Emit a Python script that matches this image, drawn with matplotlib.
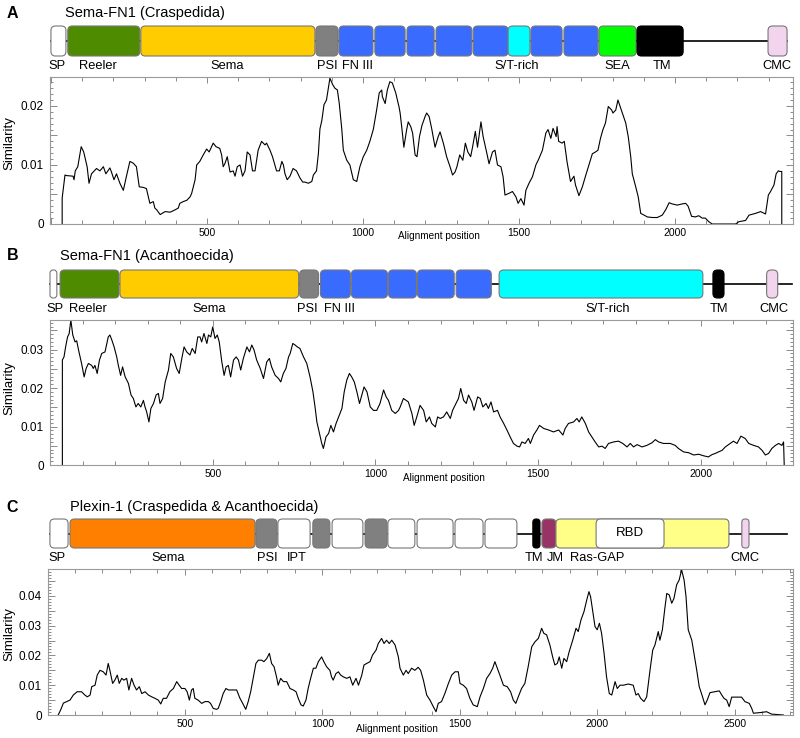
import matplotlib
matplotlib.use('Agg')
import matplotlib.pyplot as plt
from matplotlib.patches import FancyBboxPatch
from matplotlib.ticker import MultipleLocator, FuncFormatter

plt.rcParams['font.family'] = ['Liberation Sans', 'DejaVu Sans']

W, H = 800, 738

# ---------------------------------------------------------------
# similarity profiles (alignment position, similarity)
# ---------------------------------------------------------------
A_POS = [36, 36, 45, 50, 71, 74, 78, 86, 97, 105, 116, 122, 130, 146, 157, 168, 176, 189, 194, 202,
         210, 221, 232, 242, 253, 264, 274, 283, 296, 306, 317, 328, 333, 339, 350, 366, 382, 398, 408, 413,
         424, 435, 446, 451, 462, 467, 477, 488, 499, 507, 520, 529, 541, 547, 552, 558, 565, 574, 584, 590,
         597, 606, 614, 622, 629, 638, 646, 654, 664, 675, 686, 691, 702, 710, 723, 732, 740, 745, 750, 757,
         766, 776, 787, 798, 807, 814, 825, 836, 841, 851, 857, 862, 868, 875, 883, 889, 894, 903, 910, 918,
         924, 932, 937, 948, 958, 969, 980, 990, 1001, 1012, 1022, 1033, 1044, 1052, 1060, 1062, 1071, 1078, 1086, 1094,
         1105, 1116, 1119, 1124, 1131, 1140, 1145, 1153, 1159, 1167, 1173, 1181, 1189, 1199, 1204, 1212, 1220, 1231, 1241, 1247,
         1258, 1268, 1279, 1287, 1295, 1301, 1310, 1320, 1328, 1336, 1345, 1351, 1360, 1367, 1378, 1385, 1396, 1404, 1415, 1423,
         1431, 1442, 1449, 1455, 1468, 1479, 1490, 1497, 1506, 1516, 1522, 1532, 1543, 1554, 1564, 1575, 1586, 1593, 1602, 1609,
         1619, 1622, 1627, 1638, 1645, 1654, 1665, 1676, 1681, 1692, 1703, 1713, 1724, 1735, 1745, 1753, 1761, 1769, 1777, 1786,
         1797, 1801, 1810, 1817, 1826, 1833, 1842, 1850, 1858, 1863, 1874, 1882, 1890, 1901, 1911, 1927, 1943, 1959, 1970, 1981,
         1991, 2007, 2023, 2034, 2042, 2053, 2065, 2076, 2087, 2097, 2108, 2119, 2194, 2205, 2226, 2237, 2258, 2274, 2290, 2299,
         2306, 2317, 2324, 2331, 2336, 2342, 2342]
A_SIM = [0.0, 0.0044, 0.0083, 0.0082, 0.0081, 0.0075, 0.0090, 0.0097, 0.0131, 0.0122, 0.0097, 0.0069, 0.0085, 0.0094, 0.0090, 0.0097, 0.0085, 0.0095, 0.0088, 0.0075,
         0.0085, 0.0069, 0.0057, 0.0081, 0.0106, 0.0103, 0.0097, 0.0063, 0.0062, 0.0060, 0.0035, 0.0038, 0.0027, 0.0024, 0.0016, 0.0021, 0.0020, 0.0024, 0.0027, 0.0035,
         0.0038, 0.0040, 0.0046, 0.0052, 0.0075, 0.0100, 0.0106, 0.0117, 0.0127, 0.0122, 0.0137, 0.0131, 0.0128, 0.0117, 0.0097, 0.0103, 0.0114, 0.0088, 0.0090, 0.0081,
         0.0097, 0.0100, 0.0081, 0.0090, 0.0122, 0.0117, 0.0090, 0.0090, 0.0125, 0.0140, 0.0134, 0.0137, 0.0125, 0.0114, 0.0090, 0.0090, 0.0106, 0.0100, 0.0085, 0.0075,
         0.0081, 0.0094, 0.0090, 0.0078, 0.0071, 0.0071, 0.0069, 0.0072, 0.0083, 0.0090, 0.0119, 0.0161, 0.0175, 0.0202, 0.0210, 0.0230, 0.0247, 0.0236, 0.0230, 0.0227,
         0.0204, 0.0161, 0.0125, 0.0108, 0.0100, 0.0075, 0.0072, 0.0097, 0.0114, 0.0125, 0.0140, 0.0160, 0.0194, 0.0222, 0.0227, 0.0216, 0.0204, 0.0227, 0.0241, 0.0239,
         0.0222, 0.0197, 0.0188, 0.0165, 0.0130, 0.0160, 0.0173, 0.0165, 0.0154, 0.0117, 0.0114, 0.0148, 0.0167, 0.0182, 0.0188, 0.0182, 0.0162, 0.0130, 0.0148, 0.0156,
         0.0136, 0.0114, 0.0097, 0.0083, 0.0088, 0.0097, 0.0117, 0.0108, 0.0137, 0.0122, 0.0114, 0.0130, 0.0157, 0.0130, 0.0173, 0.0148, 0.0122, 0.0102, 0.0122, 0.0125,
         0.0100, 0.0097, 0.0080, 0.0049, 0.0052, 0.0055, 0.0046, 0.0035, 0.0043, 0.0032, 0.0057, 0.0069, 0.0080, 0.0100, 0.0111, 0.0125, 0.0154, 0.0160, 0.0145, 0.0162,
         0.0148, 0.0165, 0.0140, 0.0137, 0.0140, 0.0105, 0.0072, 0.0081, 0.0066, 0.0048, 0.0063, 0.0081, 0.0100, 0.0119, 0.0122, 0.0125, 0.0145, 0.0160, 0.0171, 0.0199,
         0.0193, 0.0188, 0.0193, 0.0210, 0.0196, 0.0185, 0.0171, 0.0148, 0.0114, 0.0085, 0.0063, 0.0046, 0.0018, 0.0015, 0.0012, 0.0011, 0.0011, 0.0015, 0.0024, 0.0036,
         0.0034, 0.0032, 0.0034, 0.0035, 0.0030, 0.0013, 0.0012, 0.0014, 0.0010, 0.0010, 0.0004, 0.0, 0.0, 0.0004, 0.0006, 0.0015, 0.0018, 0.0021, 0.0017, 0.0049,
         0.0055, 0.0066, 0.0085, 0.0090, 0.0089, 0.0089, 0.0]

B_POS = [38, 38, 43, 48, 54, 59, 64, 70, 77, 82, 89, 97, 105, 111, 118, 128, 133, 138, 145, 152,
         159, 169, 179, 184, 190, 197, 205, 210, 217, 223, 231, 241, 249, 256, 264, 271, 279, 287, 292, 297,
         304, 310, 318, 326, 333, 338, 346, 354, 364, 371, 379, 389, 397, 405, 412, 420, 430, 437, 446, 454,
         461, 466, 473, 482, 487, 494, 500, 507, 514, 520, 528, 535, 541, 548, 555, 564, 572, 579, 586, 594,
         605, 613, 620, 627, 635, 646, 656, 666, 674, 681, 692, 702, 709, 717, 725, 733, 738, 746, 753, 760,
         768, 779, 789, 799, 808, 815, 820, 828, 835, 840, 848, 856, 863, 871, 879, 889, 897, 904, 912, 920,
         927, 935, 943, 951, 958, 965, 974, 984, 994, 1004, 1014, 1025, 1033, 1040, 1050, 1061, 1071, 1076, 1086, 1101,
         1112, 1119, 1127, 1137, 1148, 1156, 1166, 1173, 1184, 1191, 1199, 1209, 1219, 1230, 1237, 1255, 1262, 1271, 1279, 1286,
         1296, 1303, 1314, 1322, 1330, 1340, 1347, 1355, 1363, 1375, 1383, 1394, 1404, 1414, 1424, 1435, 1443, 1450, 1460, 1470,
         1476, 1486, 1496, 1504, 1517, 1532, 1547, 1563, 1576, 1583, 1593, 1609, 1619, 1626, 1634, 1645, 1655, 1665, 1675, 1686,
         1696, 1706, 1716, 1732, 1747, 1760, 1773, 1783, 1793, 1804, 1819, 1834, 1850, 1860, 1870, 1885, 1906, 1921, 1931, 1947,
         1962, 1978, 1993, 2008, 2023, 2034, 2044, 2054, 2065, 2075, 2090, 2100, 2111, 2123, 2136, 2147, 2162, 2177, 2188, 2198,
         2208, 2218, 2229, 2239, 2249, 2254, 2256]
B_SIM = [0.0, 0.0273, 0.0281, 0.0307, 0.0333, 0.0342, 0.0377, 0.0338, 0.0320, 0.0323, 0.0294, 0.0264, 0.0229, 0.0251, 0.0264, 0.0259, 0.0251, 0.0259, 0.0238, 0.0273,
         0.0290, 0.0294, 0.0333, 0.0338, 0.0325, 0.0307, 0.0281, 0.0259, 0.0233, 0.0255, 0.0229, 0.0212, 0.0182, 0.0173, 0.0151, 0.0160, 0.0151, 0.0168, 0.0151, 0.0138,
         0.0112, 0.0147, 0.0160, 0.0182, 0.0186, 0.0160, 0.0173, 0.0216, 0.0247, 0.0290, 0.0281, 0.0251, 0.0238, 0.0277, 0.0307, 0.0294, 0.0286, 0.0303, 0.0290, 0.0333,
         0.0333, 0.0320, 0.0342, 0.0316, 0.0338, 0.0333, 0.0359, 0.0329, 0.0338, 0.0320, 0.0268, 0.0233, 0.0255, 0.0259, 0.0229, 0.0273, 0.0281, 0.0273, 0.0247, 0.0277,
         0.0307, 0.0294, 0.0312, 0.0299, 0.0273, 0.0251, 0.0225, 0.0268, 0.0277, 0.0255, 0.0233, 0.0225, 0.0216, 0.0238, 0.0251, 0.0281, 0.0290, 0.0316, 0.0312, 0.0307,
         0.0303, 0.0281, 0.0264, 0.0229, 0.0190, 0.0147, 0.0112, 0.0082, 0.0056, 0.0043, 0.0073, 0.0082, 0.0103, 0.0086, 0.0108, 0.0130, 0.0147, 0.0190, 0.0221, 0.0238,
         0.0229, 0.0216, 0.0190, 0.0160, 0.0182, 0.0203, 0.0190, 0.0151, 0.0142, 0.0142, 0.0160, 0.0195, 0.0177, 0.0168, 0.0142, 0.0134, 0.0142, 0.0151, 0.0173, 0.0164,
         0.0134, 0.0103, 0.0125, 0.0155, 0.0142, 0.0112, 0.0125, 0.0108, 0.0099, 0.0125, 0.0121, 0.0125, 0.0138, 0.0121, 0.0142, 0.0173, 0.0199, 0.0168, 0.0160, 0.0182,
         0.0164, 0.0142, 0.0177, 0.0173, 0.0151, 0.0160, 0.0147, 0.0164, 0.0138, 0.0142, 0.0125, 0.0108, 0.0091, 0.0073, 0.0056, 0.0049, 0.0047, 0.0060, 0.0056, 0.0069,
         0.0056, 0.0078, 0.0091, 0.0103, 0.0095, 0.0091, 0.0086, 0.0091, 0.0078, 0.0095, 0.0108, 0.0112, 0.0121, 0.0112, 0.0125, 0.0108, 0.0086, 0.0073, 0.0060, 0.0047,
         0.0049, 0.0043, 0.0056, 0.0060, 0.0062, 0.0056, 0.0047, 0.0056, 0.0047, 0.0053, 0.0047, 0.0051, 0.0058, 0.0066, 0.0060, 0.0056, 0.0056, 0.0051, 0.0043, 0.0034,
         0.0032, 0.0026, 0.0028, 0.0024, 0.0021, 0.0027, 0.0030, 0.0034, 0.0038, 0.0047, 0.0056, 0.0062, 0.0056, 0.0075, 0.0069, 0.0056, 0.0051, 0.0047, 0.0038, 0.0026,
         0.0030, 0.0043, 0.0051, 0.0056, 0.0051, 0.0060, 0.0]

C_POS = [39, 48, 58, 70, 82, 94, 108, 124, 136, 145, 155, 161, 173, 181, 191, 203, 213, 221, 227, 237,
         245, 254, 261, 270, 278, 288, 296, 306, 315, 324, 334, 343, 355, 367, 379, 391, 403, 412, 421, 433,
         445, 458, 470, 479, 488, 500, 508, 516, 524, 530, 536, 548, 561, 573, 585, 593, 603, 615, 621, 630,
         639, 649, 658, 670, 688, 700, 710, 721, 730, 739, 748, 758, 767, 779, 787, 797, 807, 815, 824, 833,
         839, 848, 858, 870, 882, 894, 904, 912, 922, 930, 940, 948, 957, 967, 976, 985, 997, 1005, 1015, 1027,
         1033, 1039, 1049, 1058, 1066, 1076, 1088, 1100, 1110, 1122, 1131, 1143, 1151, 1161, 1173, 1182, 1195, 1203, 1215, 1224,
         1233, 1243, 1252, 1264, 1276, 1282, 1294, 1304, 1312, 1324, 1336, 1348, 1357, 1367, 1379, 1391, 1403, 1413, 1421, 1433,
         1445, 1458, 1470, 1482, 1494, 1500, 1512, 1524, 1536, 1548, 1563, 1573, 1585, 1597, 1609, 1619, 1627, 1636, 1645, 1658,
         1672, 1684, 1694, 1703, 1712, 1724, 1736, 1748, 1761, 1773, 1785, 1797, 1805, 1815, 1827, 1837, 1845, 1854, 1861, 1870,
         1878, 1888, 1897, 1910, 1922, 1930, 1940, 1951, 1961, 1969, 1975, 1982, 1991, 1999, 2007, 2015, 2024, 2033, 2043, 2052,
         2064, 2072, 2082, 2094, 2112, 2130, 2140, 2148, 2157, 2169, 2179, 2191, 2201, 2209, 2221, 2227, 2236, 2245, 2252, 2261,
         2270, 2278, 2288, 2297, 2306, 2315, 2322, 2330, 2343, 2351, 2361, 2370, 2380, 2391, 2399, 2409, 2427, 2443, 2452, 2460,
         2470, 2479, 2488, 2506, 2524, 2536, 2552, 2561, 2567, 2591, 2615, 2633, 2676]
C_SIM = [0.0, 0.0017, 0.0040, 0.0045, 0.0050, 0.0067, 0.0078, 0.0078, 0.0067, 0.0061, 0.0067, 0.0095, 0.0100, 0.0134, 0.0150, 0.0145, 0.0134, 0.0173, 0.0150, 0.0106,
         0.0117, 0.0134, 0.0106, 0.0123, 0.0117, 0.0123, 0.0084, 0.0123, 0.0100, 0.0084, 0.0095, 0.0072, 0.0078, 0.0067, 0.0061, 0.0056, 0.0050, 0.0037, 0.0056, 0.0056,
         0.0078, 0.0089, 0.0112, 0.0100, 0.0089, 0.0089, 0.0078, 0.0050, 0.0084, 0.0089, 0.0056, 0.0050, 0.0039, 0.0045, 0.0045, 0.0039, 0.0022, 0.0019, 0.0022, 0.0045,
         0.0072, 0.0089, 0.0084, 0.0084, 0.0084, 0.0056, 0.0039, 0.0019, 0.0045, 0.0078, 0.0123, 0.0173, 0.0184, 0.0184, 0.0179, 0.0189, 0.0207, 0.0173, 0.0162, 0.0128,
         0.0100, 0.0123, 0.0112, 0.0112, 0.0089, 0.0084, 0.0078, 0.0056, 0.0034, 0.0030, 0.0050, 0.0089, 0.0123, 0.0157, 0.0157, 0.0179, 0.0195, 0.0179, 0.0162, 0.0150,
         0.0128, 0.0117, 0.0139, 0.0145, 0.0134, 0.0128, 0.0123, 0.0128, 0.0100, 0.0123, 0.0100, 0.0134, 0.0168, 0.0173, 0.0179, 0.0201, 0.0218, 0.0240, 0.0257, 0.0240,
         0.0251, 0.0240, 0.0251, 0.0235, 0.0195, 0.0157, 0.0134, 0.0150, 0.0139, 0.0157, 0.0150, 0.0160, 0.0150, 0.0117, 0.0067, 0.0050, 0.0028, 0.0011, 0.0039, 0.0045,
         0.0072, 0.0106, 0.0134, 0.0145, 0.0145, 0.0106, 0.0100, 0.0089, 0.0056, 0.0034, 0.0028, 0.0061, 0.0089, 0.0123, 0.0139, 0.0157, 0.0179, 0.0157, 0.0134, 0.0100,
         0.0095, 0.0078, 0.0050, 0.0039, 0.0061, 0.0089, 0.0106, 0.0162, 0.0229, 0.0246, 0.0257, 0.0291, 0.0274, 0.0269, 0.0235, 0.0195, 0.0168, 0.0173, 0.0195, 0.0157,
         0.0190, 0.0179, 0.0212, 0.0251, 0.0291, 0.0280, 0.0319, 0.0347, 0.0386, 0.0414, 0.0397, 0.0353, 0.0297, 0.0286, 0.0308, 0.0274, 0.0207, 0.0128, 0.0072, 0.0067,
         0.0112, 0.0089, 0.0100, 0.0100, 0.0104, 0.0100, 0.0067, 0.0072, 0.0056, 0.0045, 0.0061, 0.0150, 0.0218, 0.0235, 0.0280, 0.0251, 0.0286, 0.0358, 0.0408, 0.0403,
         0.0375, 0.0391, 0.0437, 0.0453, 0.0487, 0.0453, 0.0397, 0.0286, 0.0251, 0.0207, 0.0150, 0.0095, 0.0067, 0.0034, 0.0050, 0.0075, 0.0078, 0.0081, 0.0067, 0.0056,
         0.0050, 0.0028, 0.0060, 0.0060, 0.0060, 0.0045, 0.0039, 0.0022, 0.0006, 0.0008, 0.0011, 0.0003, 0.0]

# ---------------------------------------------------------------
# domain architecture (start, end in alignment positions)
# ---------------------------------------------------------------
A_DOM_START = [0, 54, 288, 849, 923, 1038, 1141, 1234, 1353, 1465, 1538, 1644, 1756, 1878, 2298]
A_DOM_END = [48, 285, 846, 920, 1032, 1135, 1228, 1349, 1465, 1535, 1638, 1753, 1875, 2026, 2359]
A_DOM_KIND = ['SP', 'Reeler', 'Sema', 'PSI', 'FN3', 'FN3', 'FN3', 'FN3', 'FN3', 'ST', 'FN3', 'FN3', 'SEA', 'TM', 'CMC']
A_BACKBONE = [0, 2359]
A_LABELS = ['SP', 'Reeler', 'Sema', 'PSI', 'FN III', 'S/T-rich', 'SEA', 'TM', 'CMC']
A_LABEL_POS = [19, 151, 564, 885, 984, 1494, 1814, 1958, 2327]

B_DOM_START = [0, 31, 215, 767, 831, 926, 1040, 1129, 1248, 1380, 2037, 2202]
B_DOM_END = [21, 212, 764, 825, 923, 1037, 1126, 1242, 1356, 2006, 2071, 2236]
B_DOM_KIND = ['SP', 'Reeler', 'Sema', 'PSI', 'FN3', 'FN3', 'FN3', 'FN3', 'FN3', 'ST', 'TM', 'CMC']
B_BACKBONE = [0, 2279]
B_LABELS = ['SP', 'Reeler', 'Sema', 'PSI', 'FN III', 'S/T-rich', 'TM', 'CMC']
B_LABEL_POS = [15, 117, 488, 791, 890, 1715, 2055, 2224]

C_DOM_START = [9, 82, 758, 838, 965, 1035, 1155, 1238, 1344, 1482, 1591, 1765, 1798, 1849, 1995, 2525]
C_DOM_END = [75, 755, 835, 955, 1027, 1147, 1235, 1336, 1475, 1584, 1707, 1791, 1849, 2478, 2242, 2551]
C_DOM_KIND = ['SP', 'SemaPlx', 'PSI', 'IPT', 'PSI', 'IPT', 'PSI', 'IPT', 'IPT', 'IPT', 'IPT', 'TM', 'JM', 'GAP', 'RBD', 'CMC']
C_BACKBONE = [9, 2689]
C_LABELS = ['SP', 'Sema', 'PSI', 'IPT', 'TM', 'JM', 'Ras-GAP', 'CMC']
C_LABEL_POS = [35, 438, 798, 907, 1770, 1848, 1998, 2536]
C_INNER = ['RBD']
C_INNER_POS = [2118]

COLORS = {'SP': '#ffffff', 'Reeler': '#4e8b00', 'Sema': '#ffcc00', 'PSI': '#808080',
          'FN3': '#3a6bff', 'ST': '#00ffff', 'SEA': '#00ff00', 'TM': '#000000',
          'CMC': '#f2d4ee', 'SemaPlx': '#ff8000', 'IPT': '#ffffff', 'JM': '#993366',
          'GAP': '#ffff88', 'RBD': '#ffffff'}


def fig_rect(left, top, right, bottom):
    return [left / W, 1 - bottom / H, (right - left) / W, (bottom - top) / H]


def draw_domains(fig, box, xlim, starts, ends, kinds, backbone, labels, label_pos,
                 inner=(), inner_pos=(), label_gap=10):
    left, top, right, bottom = box
    ax = fig.add_axes(fig_rect(left, top, right, bottom))
    scale = (right - left) / (xlim[1] - xlim[0])   # pixels per alignment position
    h = (bottom - top) / scale
    ax.set_xlim(xlim)
    ax.set_ylim(0, h)
    ax.axis('off')
    ax.plot(backbone, [h / 2, h / 2], color='black', lw=1.2, zorder=1, clip_on=False)
    r = 4.5 / scale
    for s, e, k in zip(starts, ends, kinds):
        rr = min(r, (e - s) * 0.45, h / 2)
        ec = '#000000' if k == 'TM' else '#777777'
        p = FancyBboxPatch((s, 0), e - s, h, boxstyle="round,pad=0,rounding_size=%f" % rr,
                           fc=COLORS[k], ec=ec, lw=0.8, zorder=2, clip_on=False)
        ax.add_patch(p)
    for t, x in zip(labels, label_pos):
        ax.text(x, -label_gap / scale, t, ha='center', va='center', fontsize=9.3)
    for t, x in zip(inner, inner_pos):
        ax.text(x, h / 2, t, ha='center', va='center', fontsize=9.5, zorder=3)
    return ax


def ytick_fmt(v, _):
    k = round(v / 0.01)
    if abs(v - k * 0.01) > 1e-6:
        return ''
    return '0' if k == 0 else '%.2f' % (k * 0.01)


def xtick_fmt(v, _):
    return '' if v <= 0 else '%d' % v


def draw_profile(fig, box, xlim, ymax, pos, sim, xlabel_x, xlabel_gap, ylabel_y):
    left, top, right, bottom = box
    ax = fig.add_axes(fig_rect(left, top, right, bottom))
    ax.plot(pos, sim, color='black', lw=0.8)
    ax.set_xlim(xlim)
    ax.set_ylim(0, ymax)
    for sp in ax.spines.values():
        sp.set_color('#9a9a9a')
        sp.set_linewidth(0.8)
    ax.xaxis.set_major_locator(MultipleLocator(500))
    ax.xaxis.set_minor_locator(MultipleLocator(100))
    ax.yaxis.set_major_locator(MultipleLocator(0.005))
    ax.yaxis.set_minor_locator(MultipleLocator(0.001))
    ax.xaxis.set_major_formatter(FuncFormatter(xtick_fmt))
    ax.yaxis.set_major_formatter(FuncFormatter(ytick_fmt))
    ax.tick_params(axis='both', which='both', direction='in', color='#8a8a8a',
                   top=True, right=True, width=0.7)
    ax.tick_params(axis='x', which='major', length=4, labelsize=7.5, pad=3)
    ax.tick_params(axis='x', which='minor', length=3)
    ax.tick_params(axis='y', which='major', length=5, labelsize=8.5, pad=4.5)
    ax.tick_params(axis='y', which='minor', length=2.5)
    ax.set_xlabel('Alignment position', fontsize=7.2)
    ax.xaxis.set_label_coords((xlabel_x - left) / (right - left), -xlabel_gap / (bottom - top))
    ax.xaxis.label.set_va('center')
    ax.set_ylabel('Similarity', fontsize=9.5)
    ax.yaxis.set_label_coords((9 - left) / (right - left), (bottom - ylabel_y) / (bottom - top))
    ax.yaxis.label.set_va('center')
    return ax


def panel_title(fig, letter, title, y, title_x):
    fig.text(12.5 / W, 1 - y / H, letter, ha='center', va='center', fontsize=11.5, fontweight='bold')
    fig.text(title_x / W, 1 - y / H, title, ha='left', va='center', fontsize=10.5)


def main():
    fig = plt.figure(figsize=(W / 100, H / 100), dpi=100)

    # A: Sema-FN1 (Craspedida)
    xa = (-3, 2378)
    panel_title(fig, 'A', 'Sema-FN1 (Craspedida)', 13, 65)
    draw_domains(fig, (50, 26, 793, 56), xa, A_DOM_START, A_DOM_END, A_DOM_KIND, A_BACKBONE,
                 A_LABELS, A_LABEL_POS)
    draw_profile(fig, (50, 77, 793, 224), xa, 0.0249, A_POS, A_SIM, 439, 12, 143)

    # B: Sema-FN1 (Acanthoecida)
    xb = (0, 2283)
    panel_title(fig, 'B', 'Sema-FN1 (Acanthoecida)', 256, 60)
    draw_domains(fig, (50, 270, 793, 298), xb, B_DOM_START, B_DOM_END, B_DOM_KIND, B_BACKBONE,
                 B_LABELS, B_LABEL_POS, label_gap=11)
    draw_profile(fig, (50, 320, 793, 465), xb, 0.0377, B_POS, B_SIM, 444, 13, 388)

    # C: Plexin-1
    xc = (2, 2711)
    panel_title(fig, 'C', 'Plexin-1 (Craspedida & Acanthoecida)', 507, 70)
    draw_domains(fig, (48, 519, 793, 548), xc, C_DOM_START, C_DOM_END, C_DOM_KIND, C_BACKBONE,
                 C_LABELS, C_LABEL_POS, C_INNER, C_INNER_POS)
    draw_profile(fig, (48, 569, 793, 715), xc, 0.049, C_POS, C_SIM, 397, 14, 634)

    fig.savefig('out.png', dpi=100)


if __name__ == '__main__':
    main()
